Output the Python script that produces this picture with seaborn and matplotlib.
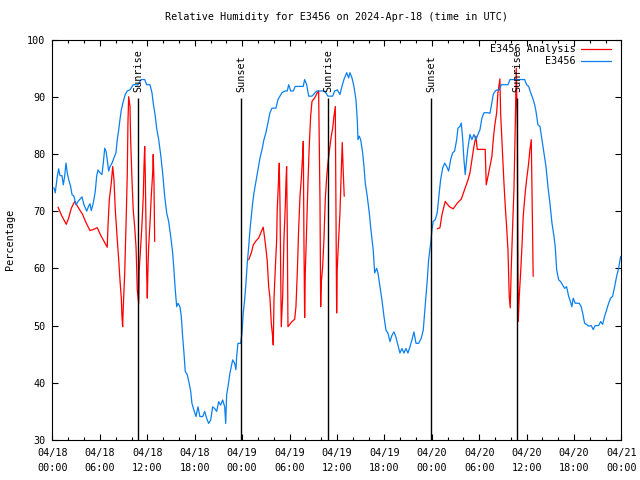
import matplotlib
matplotlib.use("Agg")
import matplotlib.pyplot as plt
import numpy as np
import pandas as pd
import seaborn as sns

title = "Relative Humidity for E3456 on 2024-Apr-18 (time in UTC)"
ylabel = "Percentage"

# observed series (hours after 04/18 00:00 UTC, %)
obs_hours = [0.19, 0.35, 0.61, 0.78, 0.95, 1.20, 1.37, 1.54, 1.71, 1.87, 2.05, 2.30, 2.47, 2.72, 2.97,
             3.23, 3.48, 3.73, 3.99, 4.33, 4.58, 4.75, 4.91, 5.16, 5.42, 5.59, 5.76, 6.01, 6.26, 6.43,
             6.61, 6.77, 6.93, 7.11, 7.28, 7.53, 7.78, 8.03, 8.20, 8.38, 8.54, 8.71, 8.96, 9.21, 9.46,
             9.81, 10.22, 10.82, 11.24, 11.67, 11.92, 12.34, 12.59, 12.75, 13.01, 13.18, 13.44, 13.69,
             13.94, 14.20, 14.45, 14.70, 14.96, 15.21, 15.37, 15.54, 15.72, 15.88, 16.13, 16.30, 16.47,
             16.64, 16.80, 17.06, 17.31, 17.49, 17.65, 17.90, 18.16, 18.41, 18.66, 19.01, 19.26, 19.51,
             19.76, 20.02, 20.27, 20.52, 20.78, 21.03, 21.28, 21.54, 21.79, 21.92, 22.04, 22.21, 22.46,
             22.62, 22.80, 23.05, 23.22, 23.31, 23.47, 23.81, 23.98, 24.14, 24.32, 24.48, 24.65, 24.83,
             24.99, 25.16, 25.33, 25.50, 25.75, 26.00, 26.26, 26.51, 26.76, 27.01, 27.26, 27.52, 27.77,
             28.28, 28.53, 28.78, 29.04, 29.38, 29.71, 29.89, 30.14, 30.47, 30.72, 31.48, 31.73, 31.91,
             32.17, 32.42, 32.84, 33.43, 34.44, 34.86, 35.46, 35.71, 36.04, 36.38, 36.63, 36.88, 37.23,
             37.48, 37.64, 37.90, 38.15, 38.40, 38.57, 38.66, 38.82, 39.00, 39.25, 39.42, 39.58, 39.83,
             40.09, 40.34, 40.59, 40.77, 41.02, 41.19, 41.44, 41.69, 41.95, 42.20, 42.45, 42.71, 42.96,
             43.21, 43.46, 43.72, 43.97, 44.22, 44.48, 44.73, 44.98, 45.24, 45.49, 45.74, 46.00, 46.34,
             46.67, 46.92, 47.10, 47.26, 47.43, 47.60, 47.86, 48.02, 48.18, 48.44, 48.69, 48.94, 49.12,
             49.37, 49.63, 49.88, 50.13, 50.39, 50.64, 50.89, 51.15, 51.31, 51.56, 51.73, 51.90, 52.07,
             52.23, 52.41, 52.57, 52.83, 53.08, 53.33, 53.59, 53.84, 54.09, 54.35, 54.60, 55.11, 55.36,
             55.52, 55.78, 56.03, 56.28, 56.54, 56.79, 57.64, 57.89, 59.75, 60.00, 60.26, 60.51, 60.76,
             61.02, 61.18, 61.43, 61.69, 61.94, 62.19, 62.45, 62.70, 62.95, 63.21, 63.46, 63.62, 63.80,
             64.05, 64.30, 64.56, 64.81, 65.06, 65.32, 65.48, 65.73, 65.90, 66.15, 66.66, 66.91, 67.09,
             67.34, 67.59, 67.85, 68.18, 68.43, 68.68, 69.11, 69.37, 69.62, 69.87, 70.13, 70.38, 70.63,
             70.88, 71.14, 71.39, 71.64, 71.90]
obs_rh = [74.1, 73.2, 76.1, 77.4, 76.2, 76.2, 74.6, 76.1, 78.4, 76.7, 75.5, 74.3, 72.9, 72.6, 71.1,
          71.7, 72.1, 72.5, 71.1, 70.0, 70.9, 71.3, 70.1, 71.4, 73.5, 76.1, 77.2, 76.7, 76.4, 78.4,
          81.0, 80.5, 79.0, 77.0, 77.8, 78.4, 79.3, 80.2, 82.5, 84.2, 86.0, 87.7, 89.2, 90.4, 91.0,
          91.2, 92.1, 92.1, 93.0, 93.0, 92.1, 92.1, 90.7, 88.9, 86.6, 84.5, 82.5, 79.9,
          76.7, 72.6, 69.7, 68.2, 65.6, 62.7, 59.7, 56.2, 53.3, 53.9, 53.3, 51.6, 48.1,
          45.2, 42.0, 41.4, 39.8, 38.5, 36.4, 35.2, 34.1, 35.8, 34.1, 34.1, 35.0, 33.8,
          32.9, 33.5, 35.8, 35.5, 35.0, 36.7, 36.1, 37.0, 35.8, 32.9, 37.9, 39.3, 41.7,
          42.8, 44.0, 43.4, 42.3, 44.6, 46.9, 46.9, 48.7, 52.2, 54.5, 57.4, 60.9, 63.8,
          66.7, 69.1, 71.4, 73.2, 75.2, 77.2, 79.3, 80.7, 82.5, 83.7, 85.4, 87.2, 88.0,
          88.0, 89.5, 90.1, 90.7, 91.0, 91.0, 92.1, 91.0, 91.0, 91.8, 91.8, 91.8, 93.0,
          92.1, 90.1, 90.1, 91.0, 91.0, 90.1, 90.1, 91.0, 91.2, 90.4, 91.8, 93.0, 94.2,
          93.3, 94.2, 93.3, 91.8, 89.5, 86.0, 82.5, 83.1, 82.5, 80.2, 77.8, 74.9, 72.6,
          69.7, 66.2, 63.2, 59.2, 60.0, 59.2, 56.8, 54.5, 51.6, 49.2, 48.7, 47.2, 48.3,
          48.9, 48.0, 46.6, 45.2, 46.0, 45.2, 46.0, 45.2, 46.3, 47.5, 48.9, 46.9, 46.9,
          47.8, 49.2, 52.2, 55.1, 58.0, 61.5, 64.4, 66.7, 68.2, 68.5, 69.7, 73.2, 75.5,
          77.5, 78.4, 77.8, 77.0, 79.0, 80.2, 80.5, 82.5, 84.5, 84.8, 85.4, 82.8, 79.0,
          76.4, 79.0, 81.0, 83.4, 82.5, 83.4, 82.5, 83.4, 84.2, 86.3, 87.2, 87.2, 87.1,
          88.3, 90.4, 91.0, 91.2, 91.2, 92.1, 92.1, 93.0, 93.0, 92.1, 91.8, 90.7, 89.8,
          88.6, 87.5, 85.1, 84.8, 82.5, 80.2, 77.8, 74.3, 71.4, 67.9, 65.6, 63.8, 59.8,
          58.0, 57.7, 57.1, 56.5, 56.8, 55.1, 54.5, 53.3, 54.8, 53.9, 53.9, 53.3, 52.2,
          50.4, 50.2, 49.9, 50.0, 49.3, 50.0, 50.0, 50.7, 50.2, 51.6, 52.8, 53.9, 54.8,
          55.1, 56.8, 58.6, 60.0, 62.1]

# analysis series, three separate runs
ana1_hours = [0.70, 1.20, 1.75, 2.05, 2.38, 2.81, 3.32, 3.82, 4.24, 4.75, 5.16, 5.67, 6.10, 6.61, 6.93,
              7.02, 7.19, 7.44, 7.62, 7.78, 7.95, 8.20, 8.38, 8.54, 8.71, 8.79, 8.88, 8.96, 9.14, 9.30,
              9.46, 9.55, 9.64, 9.81, 9.89, 10.06, 10.22, 10.40, 10.57, 10.65, 10.73, 10.91, 10.98,
              11.16, 11.32, 11.49, 11.58, 11.67, 11.74, 11.83, 11.92, 12.00, 12.08, 12.17, 12.34,
              12.50, 12.68, 12.75, 12.84, 12.93]
ana1_rh = [70.7, 69.1, 67.7, 68.8, 70.5, 71.7, 70.5, 69.4, 68.0, 66.6, 66.8, 67.1, 65.8, 64.5, 63.7,
           67.3, 72.0, 74.9, 77.8, 75.5, 70.2, 65.0, 61.5, 58.0, 54.8, 51.6, 49.8, 53.3, 59.2, 67.3,
           76.1, 85.4, 90.0, 88.3, 82.5, 75.5, 70.2, 67.3, 63.8, 60.3, 56.2, 53.9, 59.8,
           63.8, 67.6, 72.6, 77.8, 81.3, 76.7, 67.9, 59.2, 54.8, 59.8, 63.8, 67.9,
           72.6, 76.7, 79.9, 75.5, 64.7]
ana2_hours = [24.83, 25.16, 25.41, 25.75, 26.09, 26.42, 26.67, 26.85, 27.01, 27.18, 27.36, 27.52,
              27.69, 27.86, 27.94, 28.03, 28.19, 28.37, 28.44, 28.62, 28.70, 28.79, 28.88, 28.95,
              29.13, 29.29, 29.46, 29.55, 29.63, 29.71, 29.80, 29.96, 30.31, 30.65, 30.81, 30.98,
              31.15, 31.32, 31.48, 31.66, 31.74, 31.82, 31.91, 31.99, 32.17, 32.33, 32.49, 32.67,
              32.84, 33.18, 33.51, 33.68, 33.85, 33.94, 34.01, 34.19, 34.35, 34.52, 34.70, 34.86,
              35.11, 35.28, 35.46, 35.62, 35.79, 35.87, 35.96, 36.03, 36.21, 36.38, 36.54, 36.67,
              36.80, 36.92]
ana2_rh = [61.5, 62.7, 64.1, 64.8, 65.3, 66.4, 67.2, 65.3, 63.5, 61.2, 56.8, 54.8,
           50.4, 48.1, 46.6, 54.5, 59.8, 65.0, 70.2, 75.8, 78.4, 71.4, 59.2, 49.8,
           55.1, 65.0, 70.8, 75.2, 77.8, 67.3, 49.8, 50.1, 50.7, 51.1, 53.3, 59.2,
           66.7, 72.6, 75.5, 79.9, 82.2, 65.0, 51.4, 59.2, 67.3, 74.9, 81.3, 86.6,
           89.2, 89.8, 90.7, 91.0, 72.0, 53.3, 57.4, 60.3, 65.0, 72.0, 76.0, 78.4,
           81.3, 83.1, 84.5, 86.6, 88.3, 70.8, 52.2, 59.8, 65.0, 69.7, 76.7, 82.0,
           76.7, 72.6]
ana3_hours = [48.69, 49.03, 49.29, 49.54, 49.70, 50.21, 50.71, 51.22, 51.73, 52.16, 52.57, 52.83,
              53.08, 53.33, 53.59, 53.75, 54.76, 54.89, 55.11, 55.36, 55.61, 55.78, 55.95, 56.21,
              56.37, 56.62, 56.71, 56.97, 57.13, 57.30, 57.47, 57.64, 57.80, 57.93, 58.05, 58.23,
              58.40, 58.56, 58.69, 58.82, 58.90, 58.94, 59.07, 59.24, 59.41, 59.57, 59.82, 60.00,
              60.26, 60.42, 60.59, 60.71, 60.83]
ana3_rh = [66.9, 67.1, 69.4, 70.8, 71.7, 70.8, 70.4, 71.4, 72.1, 73.8, 75.4, 76.7,
           79.0, 81.3, 83.1, 80.8, 80.8, 74.6, 76.1, 77.8, 79.6, 82.5, 84.8, 87.2,
           90.7, 93.1, 87.2, 79.6, 75.0, 70.8, 67.3, 63.2, 55.1, 53.1, 59.8, 67.3,
           73.8, 84.8, 95.0, 84.8, 62.0, 50.7, 55.1, 59.2, 63.8, 69.1, 73.2, 75.5,
           78.4, 80.8, 82.5, 70.8, 58.6]

event_names = ["Sunrise", "Sunset", "Sunrise", "Sunset", "Sunrise"]
event_hours = [10.82, 23.89, 34.86, 47.93, 58.81]

xtick_hours = [0, 6, 12, 18, 24, 30, 36, 42, 48, 54, 60, 66, 72]
xtick_labels = ["04/18\n00:00", "04/18\n06:00", "04/18\n12:00", "04/18\n18:00",
                "04/19\n00:00", "04/19\n06:00", "04/19\n12:00", "04/19\n18:00",
                "04/20\n00:00", "04/20\n06:00", "04/20\n12:00", "04/20\n18:00",
                "04/21\n00:00"]
ytick_values = [30, 40, 50, 60, 70, 80, 90, 100]

sns.set_theme(style="ticks")
plt.rcParams["font.family"] = ["DejaVu Sans Mono", "DejaVu Sans"]
plt.rcParams["axes.edgecolor"] = "black"
plt.rcParams["text.color"] = "black"
plt.rcParams["axes.labelcolor"] = "black"
plt.rcParams["xtick.color"] = "black"
plt.rcParams["ytick.color"] = "black"

FS = 7.3
RED = "#ff0000"
BLUE = "#0a80f0"

obs_df = pd.DataFrame({"hour": obs_hours, "rh": obs_rh})
ana_df = pd.concat([
    pd.DataFrame({"hour": ana1_hours, "rh": ana1_rh, "run": 1}),
    pd.DataFrame({"hour": ana2_hours, "rh": ana2_rh, "run": 2}),
    pd.DataFrame({"hour": ana3_hours, "rh": ana3_rh, "run": 3}),
], ignore_index=True)

fig = plt.figure(figsize=(6.4, 4.8), dpi=100)
ax = fig.add_axes([0.082, 0.0833, 0.889, 0.8344])

sns.lineplot(data=ana_df, x="hour", y="rh", units="run", estimator=None,
             color=RED, lw=0.9, label="E3456 Analysis", ax=ax)
sns.lineplot(data=obs_df, x="hour", y="rh", estimator=None,
             color=BLUE, lw=0.9, label="E3456", ax=ax)

ax.vlines(event_hours, 30, 89.7, color="black", lw=1.0, zorder=3)
for name, h in zip(event_names, event_hours):
    ax.text(h, 90.8, name, rotation=90, ha="center", va="bottom", fontsize=FS)

ax.set_xlim(0, 72)
ax.set_ylim(30, 100)
ax.set_xticks(xtick_hours)
ax.set_xticklabels(xtick_labels, fontsize=FS, linespacing=1.55)
ax.set_xticks(np.arange(0, 73, 2), minor=True)
ax.set_yticks(ytick_values)
ax.set_yticklabels([str(v) for v in ytick_values], fontsize=FS)
ax.tick_params(axis="both", which="both", direction="in", top=True, right=True,
               width=0.8, colors="black")
ax.tick_params(axis="both", which="major", length=4.5)
ax.tick_params(axis="x", which="minor", length=2.5)
ax.tick_params(axis="x", which="major", pad=6)
ax.tick_params(axis="y", which="major", pad=5)
for sp in ax.spines.values():
    sp.set_linewidth(0.8)
    sp.set_color("black")

ax.set_xlabel("")
ax.set_ylabel(ylabel, fontsize=FS, labelpad=9)
ax.set_title(title, fontsize=FS, pad=14)

handles, labels = ax.get_legend_handles_labels()
uniq = dict(zip(labels, handles))
ax.legend(list(uniq.values()), list(uniq.keys()), loc="upper right",
          bbox_to_anchor=(1 - 6 / 569, 1), borderaxespad=0, borderpad=0.45,
          frameon=False, markerfirst=False, handlelength=2.9, handletextpad=0.6,
          labelspacing=0.2, fontsize=FS)

fig.savefig("out.png", dpi=100)
